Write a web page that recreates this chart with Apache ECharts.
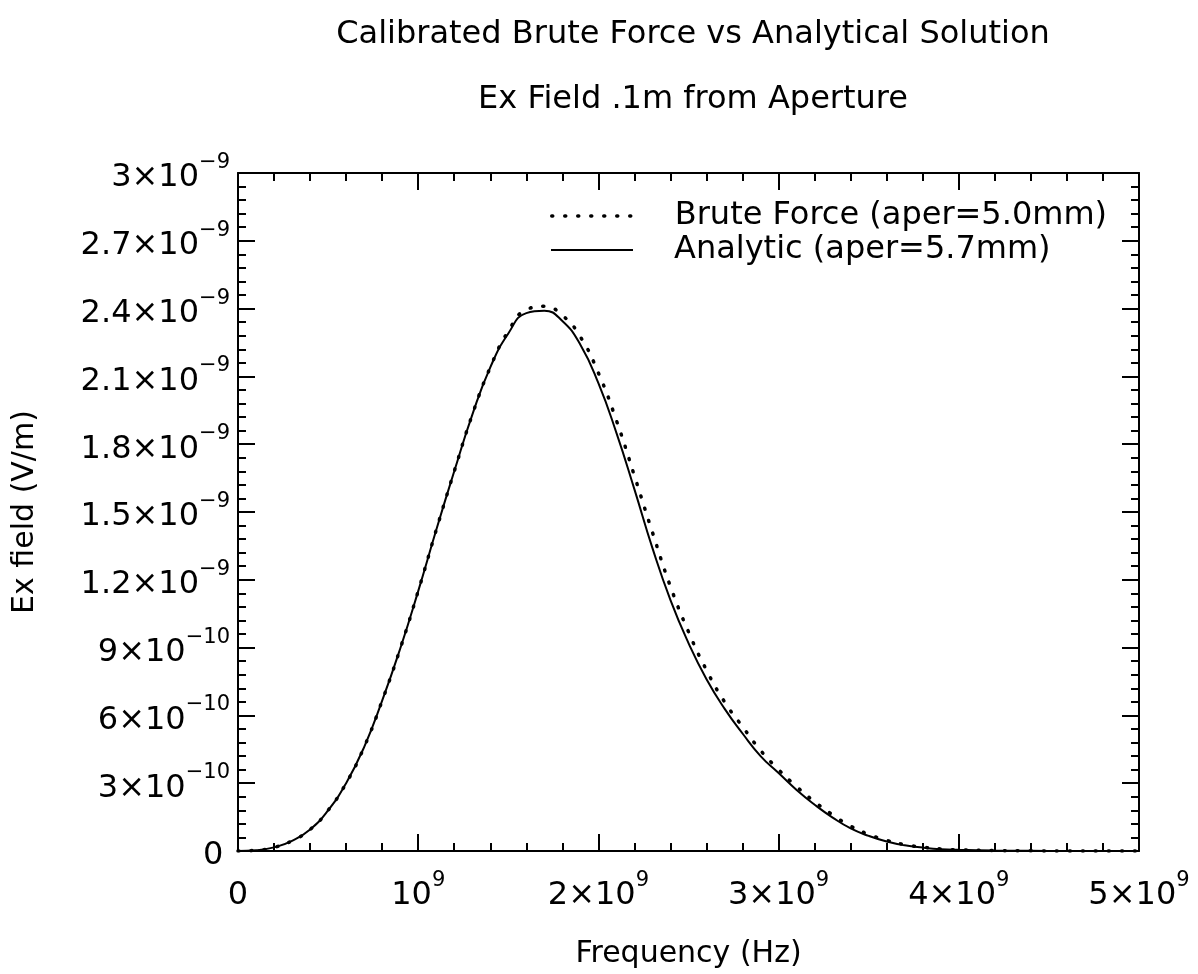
<!DOCTYPE html>
<html>
<head>
<meta charset="utf-8">
<script src="https://cdn.jsdelivr.net/npm/echarts@6/dist/echarts.min.js"></script>
<style>
  html, body { margin: 0; padding: 0; background: #fff; }
  #chart { width: 1198px; height: 974px; }
</style>
</head>
<body>
<div id="chart"></div>
<script>
// Frequency samples (GHz) shared by both curves
var freqGHz = [0, 0.1, 0.2, 0.3, 0.4, 0.5, 0.6, 0.7, 0.8, 0.9,
  1.0, 1.1, 1.2, 1.3, 1.4, 1.5, 1.6, 1.7, 1.8, 1.9,
  2.0, 2.1, 2.2, 2.3, 2.4, 2.5, 2.6, 2.7, 2.8, 2.9,
  3.0, 3.1, 3.2, 3.3, 3.4, 3.5, 3.6, 3.7, 3.8, 3.9,
  4.0, 4.2, 4.4, 4.6, 4.8, 5.0];

// Ex field, in units of 1e-9 V/m
var bruteForce = [0, 0.003, 0.016, 0.045, 0.095, 0.18, 0.30, 0.46, 0.665, 0.895,
  1.15, 1.42, 1.68, 1.93, 2.14, 2.30, 2.395, 2.41, 2.37, 2.275,
  2.115, 1.905, 1.66, 1.41, 1.17, 0.97, 0.80, 0.66, 0.55, 0.445,
  0.36, 0.285, 0.218, 0.16, 0.11, 0.074, 0.047, 0.028, 0.017, 0.009,
  0.005, 0.002, 0.0008, 0.0003, 0.0001, 0];

var analytic = [0, 0.003, 0.016, 0.045, 0.095, 0.18, 0.30, 0.46, 0.665, 0.895,
  1.15, 1.42, 1.68, 1.93, 2.14, 2.29, 2.38, 2.39, 2.345, 2.24,
  2.07, 1.85, 1.60, 1.34, 1.11, 0.92, 0.76, 0.63, 0.52, 0.42,
  0.345, 0.27, 0.205, 0.148, 0.10, 0.067, 0.042, 0.025, 0.015, 0.008,
  0.005, 0.002, 0.0008, 0.0003, 0.0001, 0];

// Tick labels: mantissa and power-of-ten exponent
var xTickMantissa = ['0', '', '2', '3', '4', '5'];
var xTickExp = ['', '9', '9', '9', '9', '9'];
var yTickMantissa = ['0', '3', '6', '9', '1.2', '1.5', '1.8', '2.1', '2.4', '2.7', '3'];
var yTickExp = ['', '\u221210', '\u221210', '\u221210', '\u22129', '\u22129', '\u22129', '\u22129', '\u22129', '\u22129', '\u22129'];

var seriesNames = ['Brute Force (aper=5.0mm)', 'Analytic (aper=5.7mm)'];
var titleLines = ['Calibrated Brute Force vs Analytical Solution', 'Ex Field .1m from Aperture'];

var FONT = 'DejaVu Sans';
var PLOT_CENTER_X = 688;

function toPairs(vals) {
  return freqGHz.map(function (f, i) { return [f * 1e9, vals[i] * 1e-9]; });
}

// Builds a rich-text label such as 2.4×10^-9; padSup keeps an empty
// superscript slot so plain labels share the same baseline layout.
function sciLabel(mant, exp, padSup) {
  if (exp === '') return '{b|' + mant + '}' + (padSup ? '{s| }' : '');
  return '{b|' + (mant ? mant + '\u00d7' : '') + '10}{s|' + exp + '}';
}

var richStyle = {
  b: { fontFamily: FONT, fontSize: 32, color: '#000', lineHeight: 42, verticalAlign: 'bottom' },
  s: { fontFamily: FONT, fontSize: 21, color: '#000', lineHeight: 42, verticalAlign: 'top' }
};

var tickCommon = { show: true, inside: true, length: 17, lineStyle: { color: '#000', width: 2 } };
var minorCommon = { show: true, splitNumber: 5, length: 8, lineStyle: { color: '#000', width: 2 } };
var lineCommon = { show: true, onZero: false, lineStyle: { color: '#000', width: 2 } };

var seriesLines = [
  { color: '#000', width: 3.5, type: [1, 12], cap: 'round' },
  { color: '#000', width: 2 }
];

function legendFor(idx, top) {
  return {
    data: [seriesNames[idx]],
    left: 550,
    top: top,
    padding: 0,
    itemWidth: 82,
    itemHeight: 14,
    itemStyle: { opacity: 0 },
    lineStyle: seriesLines[idx],
    textStyle: { fontFamily: FONT, fontSize: 32, color: '#000', padding: [0, 0, 0, 36] }
  };
}

var chart = echarts.init(document.getElementById('chart'), null, { renderer: 'canvas' });

chart.setOption({
  backgroundColor: '#fff',
  animation: false,
  title: titleLines.map(function (t, i) {
    return {
      text: t, left: PLOT_CENTER_X, textAlign: 'center', top: i === 0 ? 14 : 79,
      textStyle: { fontFamily: FONT, fontSize: 32, fontWeight: 'normal', color: '#000' }
    };
  }),
  legend: [legendFor(0, 200), legendFor(1, 234)],
  grid: { left: 238, right: 59, top: 173, bottom: 112, containLabel: false },
  xAxis: [
    {
      type: 'value', min: 0, max: 5e9, interval: 1e9,
      name: 'Frequency (Hz)', nameLocation: 'middle', nameGap: 88,
      nameTextStyle: { fontFamily: FONT, fontSize: 30, color: '#000' },
      axisLine: lineCommon, axisTick: tickCommon, minorTick: minorCommon,
      splitLine: { show: false },
      axisLabel: {
        margin: 19,
        formatter: function (v, i) { return sciLabel(xTickMantissa[i], xTickExp[i], false); },
        rich: richStyle
      }
    },
    {
      type: 'value', min: 0, max: 5e9, interval: 1e9, position: 'top',
      axisLine: lineCommon, axisTick: tickCommon, minorTick: minorCommon,
      splitLine: { show: false }, axisLabel: { show: false }
    }
  ],
  yAxis: [
    {
      type: 'value', min: 0, max: 3e-9, interval: 0.3e-9,
      name: 'Ex field (V/m)', nameLocation: 'middle', nameGap: 198, nameRotate: 90,
      nameTextStyle: { fontFamily: FONT, fontSize: 30, color: '#000' },
      axisLine: lineCommon, axisTick: tickCommon, minorTick: minorCommon,
      splitLine: { show: false },
      axisLabel: {
        margin: 8,
        formatter: function (v, i) { return sciLabel(yTickMantissa[i], yTickExp[i], true); },
        rich: richStyle
      }
    },
    {
      type: 'value', min: 0, max: 3e-9, interval: 0.3e-9, position: 'right',
      axisLine: lineCommon, axisTick: tickCommon, minorTick: minorCommon,
      splitLine: { show: false }, axisLabel: { show: false }
    }
  ],
  series: [
    {
      name: seriesNames[0], type: 'line', xAxisIndex: 0, yAxisIndex: 0,
      data: toPairs(bruteForce), smooth: 0.5, symbol: 'none',
      lineStyle: seriesLines[0],
      itemStyle: { color: '#000' }
    },
    {
      name: seriesNames[1], type: 'line', xAxisIndex: 0, yAxisIndex: 0,
      data: toPairs(analytic), smooth: 0.5, symbol: 'none',
      lineStyle: seriesLines[1],
      itemStyle: { color: '#000' }
    }
  ]
});
</script>
</body>
</html>
